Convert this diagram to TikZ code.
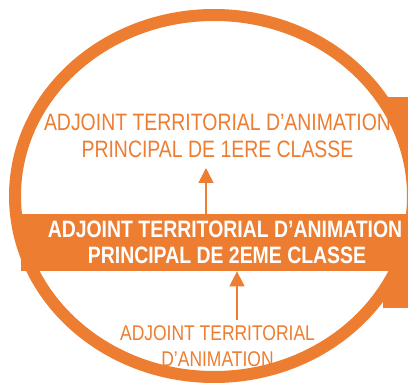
\documentclass[tikz,border=0pt]{standalone}
\usepackage{fontspec}
\newfontfamily\narrow{Liberation Sans}[FakeStretch=0.82]
\usetikzlibrary{arrows.meta}
\definecolor{orng}{HTML}{ED7D31}
\begin{document}
\begin{tikzpicture}[x=1pt,y=-1pt,
  lbl/.style={text=orng, font=\narrow\fontsize{23.7}{27}\selectfont, inner sep=0pt, anchor=base},
  lblsmall/.style={text=orng, font=\narrow\fontsize{21.3}{26}\selectfont, inner sep=0pt, anchor=base},
  bandtxt/.style={text=white, font=\narrow\bfseries\fontsize{23.7}{27}\selectfont, inner sep=0pt, anchor=base},
  uparrow/.style={draw=orng, line width=1.6pt, -{Triangle[width=15pt,length=15pt]}}]
\useasboundingbox (0,0) rectangle (408,385);
\clip (0,0) rectangle (408,385);
% tab behind the ring
\fill[orng] (383,97) rectangle (420,308);
% ring
\draw[orng, line width=12pt, fill=white] (214,196) ellipse [x radius=199pt, y radius=181pt];
% band
\node[fill=orng, inner sep=0pt, minimum width=400pt, minimum height=57pt, anchor=north west] (band) at (21,214) {};
% labels
\node[lbl] (t1a) at (217.5,131) {ADJOINT TERRITORIAL D’ANIMATION};
\node[lbl] (t1b) at (217.5,158) {PRINCIPAL DE 1ERE CLASSE};
\node[bandtxt] (t2a) at (225,238) {ADJOINT TERRITORIAL D’ANIMATION};
\node[bandtxt] (t2b) at (227,264) {PRINCIPAL DE 2EME CLASSE};
\node[lblsmall] (t3a) at (217.5,341) {ADJOINT TERRITORIAL};
\node[lblsmall] (t3b) at (217.5,367) {D’ANIMATION};
% arrows
\coordinate (a1tip) at (206,168);
\draw[uparrow] (a1tip |- band.north) -- (a1tip);
\coordinate (a2tail) at (237,320);
\draw[uparrow] (a2tail) -- (a2tail |- band.south);
\end{tikzpicture}
\end{document}
